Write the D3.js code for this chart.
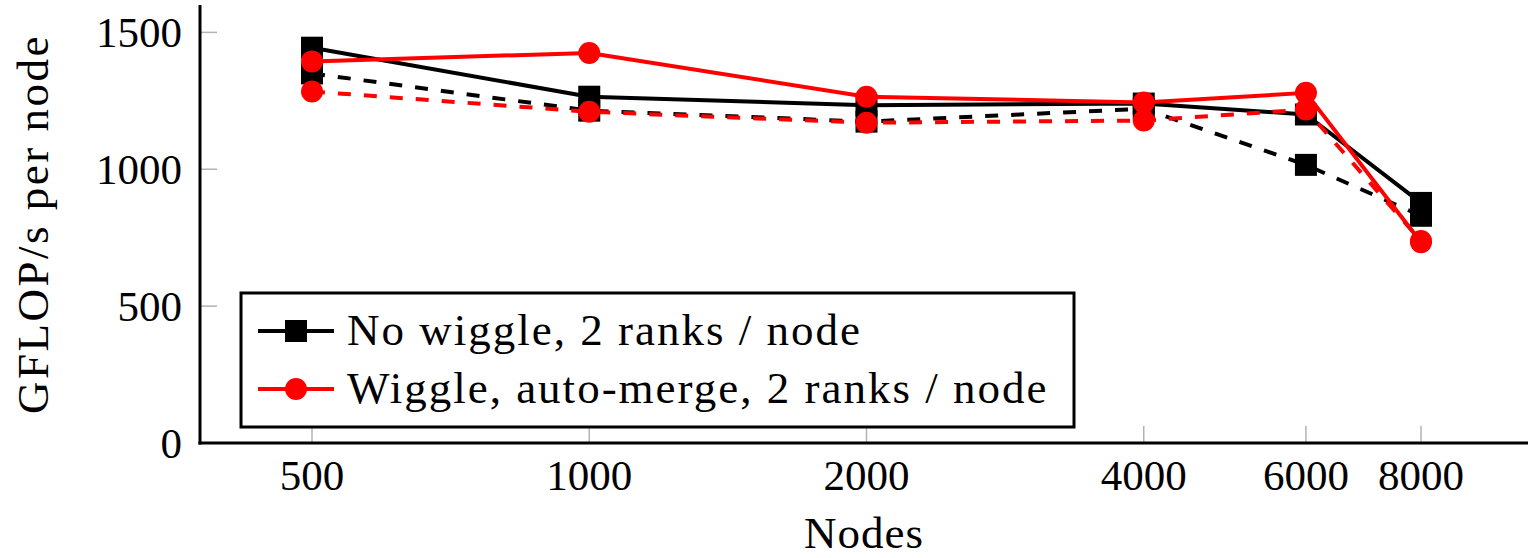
<!DOCTYPE html>
<html>
<head>
<meta charset="utf-8">
<script src="https://cdn.jsdelivr.net/npm/d3@7"></script>
<style>
  html, body { margin: 0; padding: 0; background: #fff; }
  svg text { font-family: "Liberation Serif", "Times New Roman", "DejaVu Serif", serif; }
</style>
</head>
<body>
<svg id="chart" width="1530" height="558"></svg>
<script>
// Node counts on the (log-scaled) x axis
const nodes = [500, 1000, 2000, 4000, 6000, 8000];
const xTickLabels = ["500", "1000", "2000", "4000", "6000", "8000"];
const yTicks = [0, 500, 1000, 1500];

// GFLOP/s per node
const noWiggle       = [1444, 1265, 1234, 1240, 1200, 877];
const noWiggleAlt    = [1350, 1214, 1174, 1221, 1016, 830];
const wiggle         = [1394, 1425, 1265, 1244, 1279, 733];
const wiggleAlt      = [1284, 1210, 1170, 1178, 1218, 738];

const legendLabels = ["No wiggle, 2 ranks / node", "Wiggle, auto-merge, 2 ranks / node"];

const plotLeft = 200, plotRight = 1528, plotTop = 5, plotBottom = 443;
const FS = 43;
const FONT = "'Liberation Serif', 'Times New Roman', 'DejaVu Serif', serif";

const svg = d3.select("#chart");

const x = d3.scaleLog().domain([500, 8000]).range([312, 1421]);
const y = d3.scaleLinear().domain([0, 1600]).range([plotBottom, plotTop]);

// inward grey ticks
const tickLen = 17;
const tickColor = "#b3b3b3";
svg.append("g").selectAll("line").data(nodes).join("line")
  .attr("x1", d => x(d)).attr("x2", d => x(d))
  .attr("y1", plotBottom).attr("y2", plotBottom - tickLen)
  .attr("stroke", tickColor).attr("stroke-width", 1.5);
svg.append("g").selectAll("line").data(yTicks).join("line")
  .attr("x1", plotLeft).attr("x2", plotLeft + tickLen)
  .attr("y1", d => y(d)).attr("y2", d => y(d))
  .attr("stroke", tickColor).attr("stroke-width", 1.5);

// tick labels
svg.append("g").selectAll("text").data(nodes).join("text")
  .attr("x", d => x(d)).attr("y", 490)
  .attr("text-anchor", "middle").attr("font-size", FS).attr("font-family", FONT)
  .text((d, i) => xTickLabels[i]);
svg.append("g").selectAll("text").data(yTicks).join("text")
  .attr("x", 182).attr("y", d => y(d) + 15)
  .attr("text-anchor", "end").attr("font-size", FS).attr("font-family", FONT)
  .text(d => d);

// axis titles
svg.append("text")
  .attr("x", (plotLeft + plotRight) / 2).attr("y", 548)
  .attr("text-anchor", "middle").attr("font-size", 45).attr("font-family", FONT)
  .attr("letter-spacing", 1)
  .text("Nodes");
svg.append("text")
  .attr("transform", `translate(48,${(plotTop + plotBottom) / 2}) rotate(-90)`)
  .attr("text-anchor", "middle").attr("font-size", 45).attr("font-family", FONT)
  .attr("letter-spacing", 2.5)
  .text("GFLOP/s per node");

// series
const line = d3.line().x(d => x(d[0])).y(d => y(d[1]));
const series = [
  { values: noWiggle,    color: "#000", dash: null,    mark: "square" },
  { values: noWiggleAlt, color: "#000", dash: "13 13", mark: "square" },
  { values: wiggle,      color: "#f00", dash: null,    mark: "circle" },
  { values: wiggleAlt,   color: "#f00", dash: "13 13", mark: "circle" }
];

const MS = 11; // marker half-size
function drawMark(g, type, cx, cy, color) {
  if (type === "square") {
    g.append("rect").attr("x", cx - MS).attr("y", cy - MS)
      .attr("width", 2 * MS).attr("height", 2 * MS).attr("fill", color);
  } else {
    g.append("circle").attr("cx", cx).attr("cy", cy).attr("r", MS).attr("fill", color);
  }
}

series.forEach(s => {
  const g = svg.append("g");
  const pts = nodes.map((n, i) => [n, s.values[i]]);
  g.append("path").datum(pts)
    .attr("d", line).attr("fill", "none")
    .attr("stroke", s.color).attr("stroke-width", 4)
    .attr("stroke-linejoin", "round")
    .attr("stroke-dasharray", s.dash);
  pts.forEach(p => drawMark(g, s.mark, x(p[0]), y(p[1]), s.color));
});

// axis lines (left and bottom only)
svg.append("line").attr("x1", plotLeft).attr("x2", plotLeft).attr("y1", plotTop).attr("y2", plotBottom + 1.5)
  .attr("stroke", "#000").attr("stroke-width", 3);
svg.append("line").attr("x1", plotLeft - 1.5).attr("x2", plotRight).attr("y1", plotBottom).attr("y2", plotBottom)
  .attr("stroke", "#000").attr("stroke-width", 3);

// legend
const lg = svg.append("g");
lg.append("rect").attr("x", 241).attr("y", 293).attr("width", 833).attr("height", 134)
  .attr("fill", "#fff").attr("stroke", "#000").attr("stroke-width", 3);
const legendItems = [
  { label: legendLabels[0], color: "#000", mark: "square" },
  { label: legendLabels[1], color: "#f00", mark: "circle" }
];
legendItems.forEach((it, i) => {
  const cy = 331 + i * 58;
  lg.append("line").attr("x1", 258).attr("x2", 334).attr("y1", cy).attr("y2", cy)
    .attr("stroke", it.color).attr("stroke-width", 4);
  drawMark(lg, it.mark, 296, cy, it.color);
  lg.append("text").attr("x", 347).attr("y", cy + 14)
    .attr("font-size", 45).attr("font-family", FONT)
    .attr("letter-spacing", 2)
    .text(it.label);
});
</script>
</body>
</html>
